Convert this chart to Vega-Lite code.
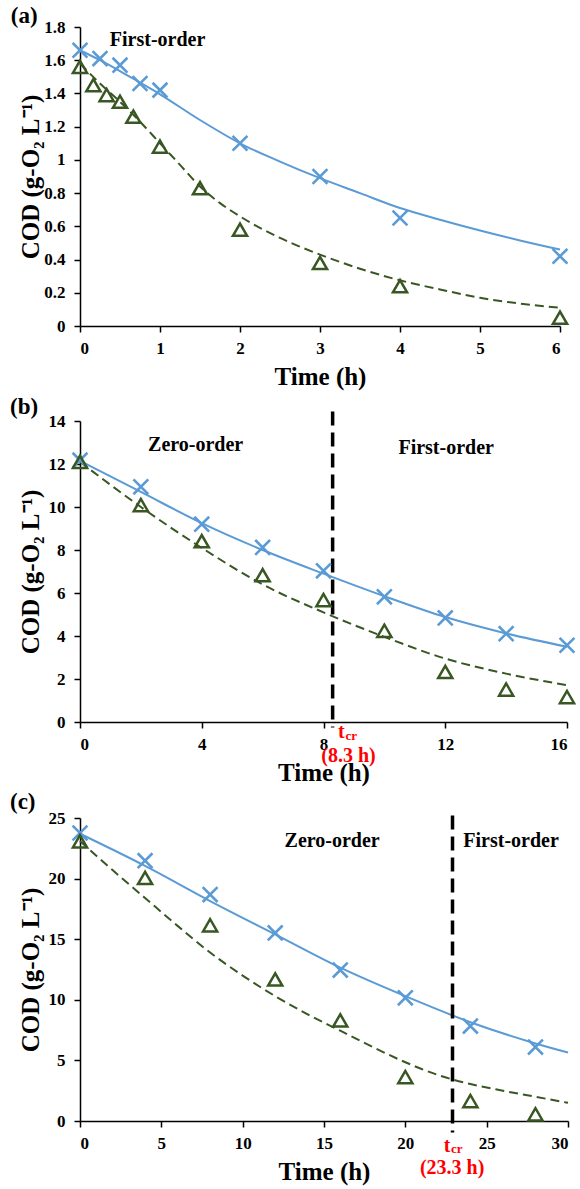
{
  "$schema": "https://vega.github.io/schema/vega-lite/v6.json",
  "padding": {"left": 10, "top": 5, "right": 2, "bottom": 2},
  "spacing": 6,
  "config": {
    "font": "Liberation Serif",
    "view": {"stroke": null},
    "axis": {"domainColor": "black", "domainWidth": 1.5, "tickColor": "black", "tickWidth": 1.5, "tickSize": 6, "grid": false,
      "labelFont": "Liberation Serif", "labelFontWeight": "bold", "labelFontSize": 17, "labelColor": "black", "labelPadding": 8,
      "titleFont": "Liberation Serif", "titleFontWeight": "bold", "titleFontSize": 25, "titleColor": "black"},
    "axisX": {"titlePadding": 8},
    "axisY": {"titlePadding": 0, "labelPadding": 9},
    "title": {"font": "Liberation Serif", "fontSize": 23, "fontWeight": "bold", "anchor": "start", "frame": "bounds", "color": "black"}
  },
  "datasets": {
    "a_pts": [
      {"s": "X", "t": 0, "c": 1.66}, {"s": "X", "t": 0.25, "c": 1.61}, {"s": "X", "t": 0.5, "c": 1.57}, {"s": "X", "t": 0.75, "c": 1.46}, {"s": "X", "t": 1, "c": 1.42}, {"s": "X", "t": 2, "c": 1.10}, {"s": "X", "t": 3, "c": 0.90}, {"s": "X", "t": 4, "c": 0.65}, {"s": "X", "t": 6, "c": 0.42},
      {"s": "T", "t": 0, "c": 1.56}, {"s": "T", "t": 0.167, "c": 1.45}, {"s": "T", "t": 0.333, "c": 1.39}, {"s": "T", "t": 0.5, "c": 1.35}, {"s": "T", "t": 0.667, "c": 1.26}, {"s": "T", "t": 1, "c": 1.08}, {"s": "T", "t": 1.5, "c": 0.83}, {"s": "T", "t": 2, "c": 0.58}, {"s": "T", "t": 3, "c": 0.38}, {"s": "T", "t": 4, "c": 0.24}, {"s": "T", "t": 6, "c": 0.05}
    ],
    "a_fit": [
      {"s": "B", "t": 0, "c": 1.66}, {"s": "B", "t": 0.25, "c": 1.6}, {"s": "B", "t": 0.5, "c": 1.535}, {"s": "B", "t": 0.75, "c": 1.465}, {"s": "B", "t": 1, "c": 1.395}, {"s": "B", "t": 1.5, "c": 1.24}, {"s": "B", "t": 2, "c": 1.10}, {"s": "B", "t": 2.5, "c": 0.99}, {"s": "B", "t": 3, "c": 0.89}, {"s": "B", "t": 3.5, "c": 0.80}, {"s": "B", "t": 4, "c": 0.71}, {"s": "B", "t": 4.5, "c": 0.64}, {"s": "B", "t": 5, "c": 0.575}, {"s": "B", "t": 5.5, "c": 0.515}, {"s": "B", "t": 6, "c": 0.46},
      {"s": "G", "t": 0, "c": 1.58}, {"s": "G", "t": 0.25, "c": 1.46}, {"s": "G", "t": 0.5, "c": 1.35}, {"s": "G", "t": 0.75, "c": 1.23}, {"s": "G", "t": 1, "c": 1.10}, {"s": "G", "t": 1.25, "c": 0.97}, {"s": "G", "t": 1.5, "c": 0.84}, {"s": "G", "t": 1.75, "c": 0.74}, {"s": "G", "t": 2, "c": 0.66}, {"s": "G", "t": 2.5, "c": 0.53}, {"s": "G", "t": 3, "c": 0.43}, {"s": "G", "t": 3.5, "c": 0.345}, {"s": "G", "t": 4, "c": 0.275}, {"s": "G", "t": 4.5, "c": 0.22}, {"s": "G", "t": 5, "c": 0.17}, {"s": "G", "t": 5.5, "c": 0.135}, {"s": "G", "t": 6, "c": 0.11}
    ],
    "a_txt": [{"k": "big", "t": 0.97, "c": 1.72, "label": "First-order"}],
    "b_pts": [
      {"s": "X", "t": 0, "c": 12.18}, {"s": "X", "t": 2, "c": 10.94}, {"s": "X", "t": 4, "c": 9.20}, {"s": "X", "t": 6, "c": 8.12}, {"s": "X", "t": 8, "c": 7.03}, {"s": "X", "t": 10, "c": 5.82}, {"s": "X", "t": 12, "c": 4.84}, {"s": "X", "t": 14, "c": 4.11}, {"s": "X", "t": 16, "c": 3.57},
      {"s": "T", "t": 0, "c": 12.1}, {"s": "T", "t": 2, "c": 10.09}, {"s": "T", "t": 4, "c": 8.41}, {"s": "T", "t": 6, "c": 6.83}, {"s": "T", "t": 8, "c": 5.67}, {"s": "T", "t": 10, "c": 4.24}, {"s": "T", "t": 12, "c": 2.33}, {"s": "T", "t": 14, "c": 1.51}, {"s": "T", "t": 16, "c": 1.16}
    ],
    "b_fit": [
      {"s": "B", "t": 0, "c": 12.15}, {"s": "B", "t": 2, "c": 10.7}, {"s": "B", "t": 4, "c": 9.25}, {"s": "B", "t": 6, "c": 8.0}, {"s": "B", "t": 8, "c": 6.9}, {"s": "B", "t": 10, "c": 5.85}, {"s": "B", "t": 12, "c": 4.88}, {"s": "B", "t": 14, "c": 4.12}, {"s": "B", "t": 16, "c": 3.5},
      {"s": "G", "t": 0, "c": 12.1}, {"s": "G", "t": 2, "c": 10.0}, {"s": "G", "t": 4, "c": 8.1}, {"s": "G", "t": 6, "c": 6.4}, {"s": "G", "t": 8, "c": 5.1}, {"s": "G", "t": 10, "c": 3.96}, {"s": "G", "t": 12, "c": 2.95}, {"s": "G", "t": 14, "c": 2.25}, {"s": "G", "t": 16, "c": 1.71}
    ],
    "b_rule": [{"t": 8.3, "c": 14.44, "c2": -0.25}],
    "b_txt": [
      {"k": "big", "t": 3.8, "c": 12.88, "label": "Zero-order"},
      {"k": "big", "t": 12.03, "c": 12.75, "label": "First-order"},
      {"k": "t", "t": 8.48, "c": -0.45, "label": "t"},
      {"k": "cr", "t": 8.72, "c": -0.66, "label": "cr"},
      {"k": "h", "t": 8.82, "c": -1.6, "label": "(8.3 h)"}
    ],
    "c_pts": [
      {"s": "X", "t": 0, "c": 23.76}, {"s": "X", "t": 4, "c": 21.48}, {"s": "X", "t": 8, "c": 18.68}, {"s": "X", "t": 12, "c": 15.52}, {"s": "X", "t": 16, "c": 12.45}, {"s": "X", "t": 20, "c": 10.16}, {"s": "X", "t": 24, "c": 7.83}, {"s": "X", "t": 28, "c": 6.1},
      {"s": "T", "t": 0, "c": 23.08}, {"s": "T", "t": 4, "c": 20.05}, {"s": "T", "t": 8, "c": 16.15}, {"s": "T", "t": 12, "c": 11.68}, {"s": "T", "t": 16, "c": 8.3}, {"s": "T", "t": 20, "c": 3.63}, {"s": "T", "t": 24, "c": 1.65}, {"s": "T", "t": 28, "c": 0.55}
    ],
    "c_fit": [
      {"s": "B", "t": 0, "c": 23.7}, {"s": "B", "t": 4, "c": 21.05}, {"s": "B", "t": 8, "c": 18.15}, {"s": "B", "t": 12, "c": 15.4}, {"s": "B", "t": 16, "c": 12.65}, {"s": "B", "t": 20, "c": 10.3}, {"s": "B", "t": 24, "c": 8.15}, {"s": "B", "t": 28, "c": 6.4}, {"s": "B", "t": 30, "c": 5.65},
      {"s": "G", "t": 0, "c": 23.1}, {"s": "G", "t": 2, "c": 20.7}, {"s": "G", "t": 4, "c": 18.4}, {"s": "G", "t": 6, "c": 16.1}, {"s": "G", "t": 8, "c": 13.9}, {"s": "G", "t": 10, "c": 12.0}, {"s": "G", "t": 12, "c": 10.3}, {"s": "G", "t": 14, "c": 8.8}, {"s": "G", "t": 16, "c": 7.45}, {"s": "G", "t": 18, "c": 6.1}, {"s": "G", "t": 20, "c": 4.85}, {"s": "G", "t": 22, "c": 3.8}, {"s": "G", "t": 24, "c": 3.05}, {"s": "G", "t": 26, "c": 2.5}, {"s": "G", "t": 28, "c": 2.0}, {"s": "G", "t": 30, "c": 1.5}
    ],
    "c_rule": [{"t": 22.9, "c": 25.2, "c2": -0.95}],
    "c_txt": [
      {"k": "big", "t": 15.5, "c": 23.1, "label": "Zero-order"},
      {"k": "big", "t": 26.5, "c": 23.1, "label": "First-order"},
      {"k": "t", "t": 22.36, "c": -2.05, "label": "t"},
      {"k": "cr", "t": 22.8, "c": -2.35, "label": "cr"},
      {"k": "h", "t": 22.88, "c": -3.85, "label": "(23.3 h)"}
    ]
  },
  "vconcat": [
    {
      "width": 480, "height": 299,
      "title": {"text": "(a)", "dx": -8, "offset": -10},
      "encoding": {
        "x": {"field": "t", "type": "quantitative", "scale": {"domain": [0, 6], "nice": false}, "axis": {"values": [0, 1, 2, 3, 4, 5, 6], "title": "Time (h)"}},
        "y": {"field": "c", "type": "quantitative", "scale": {"domain": [0, 1.8], "nice": false}, "axis": {"values": [0, 0.2, 0.4, 0.6, 0.8, 1, 1.2, 1.4, 1.6, 1.8], "format": ".1~f", "title": "COD (g-O₂ L⁻¹)", "titlePadding": 0}}
      },
      "layer": [
        {"data": {"name": "a_fit"}, "transform": [{"filter": "datum.s == 'B'"}], "mark": {"type": "line", "color": "#5b9bd5", "strokeWidth": 2, "interpolate": "monotone"}},
        {"data": {"name": "a_fit"}, "transform": [{"filter": "datum.s == 'G'"}], "mark": {"type": "line", "color": "#385723", "strokeWidth": 2, "strokeDash": [9, 5], "interpolate": "monotone"}},
        {"data": {"name": "a_pts"}, "transform": [{"filter": "datum.s == 'X'"}], "mark": {"type": "point", "shape": "M-1,-1L1,1M1,-1L-1,1", "size": 220, "filled": false, "stroke": "#5b9bd5", "strokeWidth": 2.6, "opacity": 1}},
        {"data": {"name": "a_pts"}, "transform": [{"filter": "datum.s == 'T'"}], "mark": {"type": "point", "shape": "triangle-up", "size": 200, "filled": false, "stroke": "#385723", "strokeWidth": 2.5, "opacity": 1}},
        {"data": {"name": "a_txt"}, "mark": {"type": "text", "font": "Liberation Serif", "fontWeight": "bold", "fontSize": 20, "color": "black", "baseline": "middle"}, "encoding": {"text": {"field": "label"}}}
      ]
    },
    {
      "width": 487, "height": 301,
      "title": {"text": "(b)", "dx": -8, "offset": -9},
      "encoding": {
        "x": {"field": "t", "type": "quantitative", "scale": {"domain": [0, 16], "nice": false}, "axis": {"values": [0, 4, 8, 12, 16], "title": "Time (h)"}},
        "y": {"field": "c", "type": "quantitative", "scale": {"domain": [0, 14], "nice": false}, "axis": {"values": [0, 2, 4, 6, 8, 10, 12, 14], "title": "COD (g-O₂ L⁻¹)", "titlePadding": 5}}
      },
      "layer": [
        {"data": {"name": "b_fit"}, "transform": [{"filter": "datum.s == 'B'"}], "mark": {"type": "line", "color": "#5b9bd5", "strokeWidth": 2, "interpolate": "monotone"}},
        {"data": {"name": "b_fit"}, "transform": [{"filter": "datum.s == 'G'"}], "mark": {"type": "line", "color": "#385723", "strokeWidth": 2, "strokeDash": [9, 5], "interpolate": "monotone"}},
        {"data": {"name": "b_rule"}, "mark": {"type": "rule", "color": "black", "strokeWidth": 3.5, "strokeDash": [14, 7]}, "encoding": {"y2": {"field": "c2"}}},
        {"data": {"name": "b_pts"}, "transform": [{"filter": "datum.s == 'X'"}], "mark": {"type": "point", "shape": "M-1,-1L1,1M1,-1L-1,1", "size": 220, "filled": false, "stroke": "#5b9bd5", "strokeWidth": 2.6, "opacity": 1}},
        {"data": {"name": "b_pts"}, "transform": [{"filter": "datum.s == 'T'"}], "mark": {"type": "point", "shape": "triangle-up", "size": 200, "filled": false, "stroke": "#385723", "strokeWidth": 2.5, "opacity": 1}},
        {"data": {"name": "b_txt"}, "transform": [{"filter": "datum.k == 'big'"}], "mark": {"type": "text", "font": "Liberation Serif", "fontWeight": "bold", "fontSize": 20, "color": "black", "baseline": "middle"}, "encoding": {"text": {"field": "label"}}},
        {"data": {"name": "b_txt"}, "transform": [{"filter": "datum.k == 't'"}], "mark": {"type": "text", "font": "Liberation Serif", "fontWeight": "bold", "fontSize": 20, "color": "#ff0000", "baseline": "middle", "align": "left"}, "encoding": {"text": {"field": "label"}}},
        {"data": {"name": "b_txt"}, "transform": [{"filter": "datum.k == 'cr'"}], "mark": {"type": "text", "font": "Liberation Serif", "fontWeight": "bold", "fontSize": 13, "color": "#ff0000", "baseline": "middle", "align": "left"}, "encoding": {"text": {"field": "label"}}},
        {"data": {"name": "b_txt"}, "transform": [{"filter": "datum.k == 'h'"}], "mark": {"type": "text", "font": "Liberation Serif", "fontWeight": "bold", "fontSize": 20, "color": "#ff0000", "baseline": "middle"}, "encoding": {"text": {"field": "label"}}}
      ]
    },
    {
      "width": 488, "height": 303,
      "title": {"text": "(c)", "dx": -8, "offset": -5},
      "encoding": {
        "x": {"field": "t", "type": "quantitative", "scale": {"domain": [0, 30], "nice": false}, "axis": {"values": [0, 5, 10, 15, 20, 25, 30], "title": "Time (h)"}},
        "y": {"field": "c", "type": "quantitative", "scale": {"domain": [0, 25], "nice": false}, "axis": {"values": [0, 5, 10, 15, 20, 25], "title": "COD (g-O₂ L⁻¹)", "titlePadding": 5}}
      },
      "layer": [
        {"data": {"name": "c_fit"}, "transform": [{"filter": "datum.s == 'B'"}], "mark": {"type": "line", "color": "#5b9bd5", "strokeWidth": 2, "interpolate": "monotone"}},
        {"data": {"name": "c_fit"}, "transform": [{"filter": "datum.s == 'G'"}], "mark": {"type": "line", "color": "#385723", "strokeWidth": 2, "strokeDash": [9, 5], "interpolate": "monotone"}},
        {"data": {"name": "c_rule"}, "mark": {"type": "rule", "color": "black", "strokeWidth": 3.5, "strokeDash": [14, 7]}, "encoding": {"y2": {"field": "c2"}}},
        {"data": {"name": "c_pts"}, "transform": [{"filter": "datum.s == 'X'"}], "mark": {"type": "point", "shape": "M-1,-1L1,1M1,-1L-1,1", "size": 220, "filled": false, "stroke": "#5b9bd5", "strokeWidth": 2.6, "opacity": 1}},
        {"data": {"name": "c_pts"}, "transform": [{"filter": "datum.s == 'T'"}], "mark": {"type": "point", "shape": "triangle-up", "size": 200, "filled": false, "stroke": "#385723", "strokeWidth": 2.5, "opacity": 1}},
        {"data": {"name": "c_txt"}, "transform": [{"filter": "datum.k == 'big'"}], "mark": {"type": "text", "font": "Liberation Serif", "fontWeight": "bold", "fontSize": 20, "color": "black", "baseline": "middle"}, "encoding": {"text": {"field": "label"}}},
        {"data": {"name": "c_txt"}, "transform": [{"filter": "datum.k == 't'"}], "mark": {"type": "text", "font": "Liberation Serif", "fontWeight": "bold", "fontSize": 20, "color": "#ff0000", "baseline": "middle", "align": "left"}, "encoding": {"text": {"field": "label"}}},
        {"data": {"name": "c_txt"}, "transform": [{"filter": "datum.k == 'cr'"}], "mark": {"type": "text", "font": "Liberation Serif", "fontWeight": "bold", "fontSize": 13, "color": "#ff0000", "baseline": "middle", "align": "left"}, "encoding": {"text": {"field": "label"}}},
        {"data": {"name": "c_txt"}, "transform": [{"filter": "datum.k == 'h'"}], "mark": {"type": "text", "font": "Liberation Serif", "fontWeight": "bold", "fontSize": 20, "color": "#ff0000", "baseline": "middle"}, "encoding": {"text": {"field": "label"}}}
      ]
    }
  ]
}
